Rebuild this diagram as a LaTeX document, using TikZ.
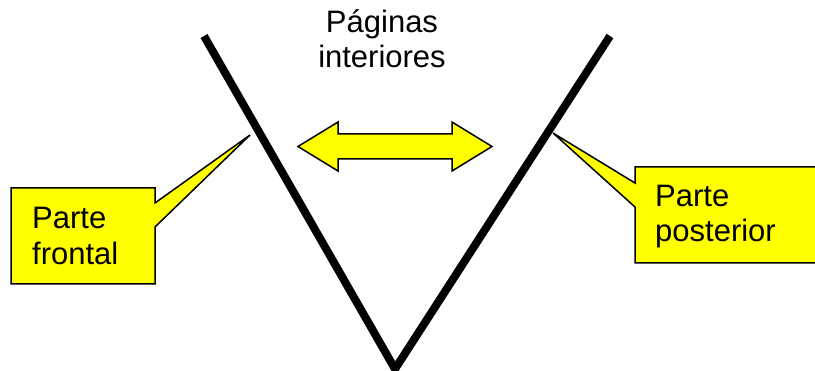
\documentclass[tikz,border=0pt]{standalone}
\usepackage{fontspec}
\setmainfont{Liberation Sans}
\definecolor{calloutyellow}{HTML}{FFFF00}
\begin{document}
\begin{tikzpicture}[x=1pt,y=-1pt,
  cover/.style={line width=8pt,line join=miter,black},
  yfill/.style={fill=calloutyellow,draw=black,line width=1.5pt,line join=miter},
  lbl/.style={font=\fontsize{31}{36}\selectfont,inner sep=0pt,align=left,anchor=base west}]
\useasboundingbox (0,0) rectangle (815,371);
\clip (0,0) rectangle (815,371);
% cover
\coordinate (ltop) at (204,36);
\coordinate (vtx) at (395,369);
\coordinate (rtop) at (610,36);
\draw[cover] (ltop) -- (vtx) -- (rtop);
% callouts
\coordinate (tipL) at (250,135);
\coordinate (tipR) at (553,133);
\draw[yfill] (11,188) -- (155,188) -- (155,203) -- (tipL) -- (155,227) -- (155,284) -- (11,284) -- cycle;
\draw[yfill] (635,167) -- (830,167) -- (830,263) -- (635,263) -- (635,207) -- (tipR) -- (635,183) -- cycle;
\node[lbl] (front) at (32,265) {Parte\\frontal};
\node[lbl,font=\fontsize{31}{35}\selectfont] (back) at (655,242) {Parte\\posterior};
% double arrow
\draw[yfill] (298,146.5) -- (338,122) -- (338,134) -- (452,134) -- (452,122) -- (492,146.5)
  -- (452,171) -- (452,159) -- (338,159) -- (338,171) -- cycle;
\node[font=\fontsize{31}{35}\selectfont,inner sep=0pt,align=center,anchor=base] (inner) at (382,68) {Páginas\\interiores};
\end{tikzpicture}
\end{document}
